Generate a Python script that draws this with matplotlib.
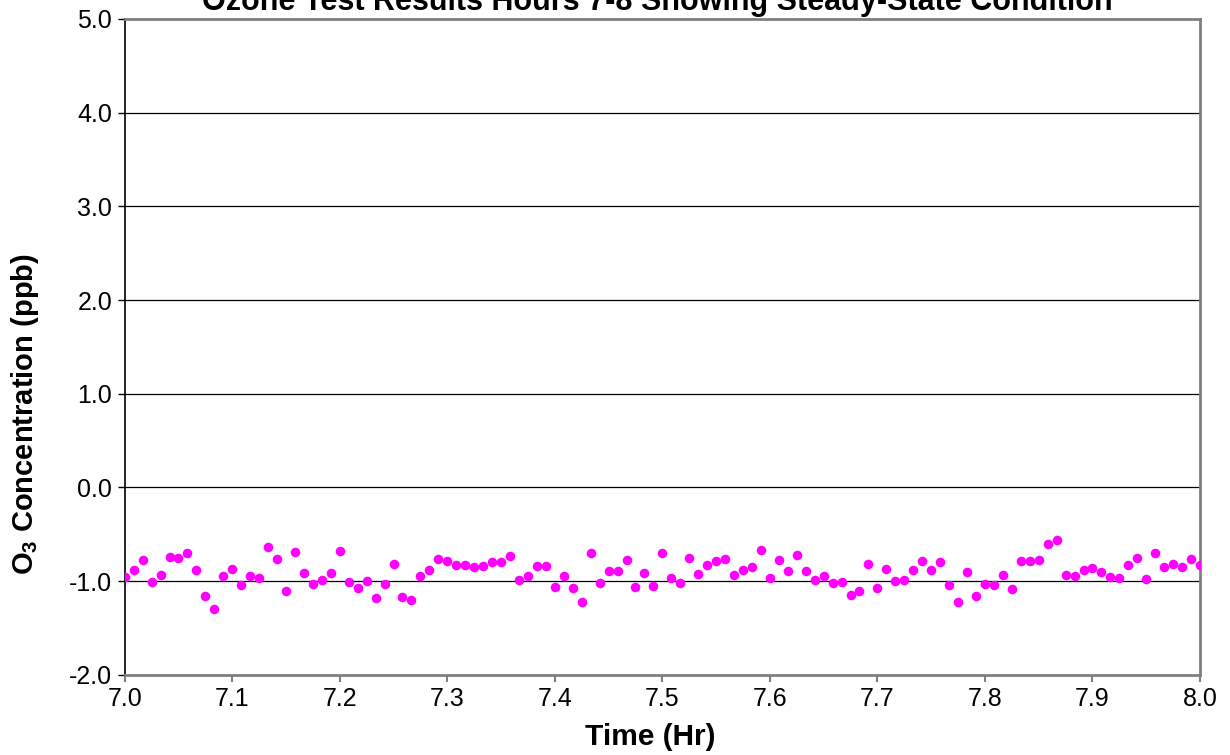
import numpy as np
import matplotlib
matplotlib.use("Agg")
import matplotlib.pyplot as plt

plt.rcParams['font.family'] = ['Liberation Sans', 'DejaVu Sans']
plt.rcParams['mathtext.fontset'] = 'custom'
plt.rcParams['mathtext.rm'] = 'Liberation Sans'
plt.rcParams['mathtext.bf'] = 'Liberation Sans:bold'

# ozone readings, one every 30 s from hour 7.0 to 8.0
o3 = [-0.957, -0.879, -0.772, -1.007, -0.936, -0.747, -0.754, -0.701, -0.883, -1.157,
      -1.299, -0.947, -0.875, -1.046, -0.950, -0.972, -0.641, -0.762, -1.103, -0.687,
      -0.918, -1.032, -0.989, -0.915, -0.676, -1.011, -1.078, -1.004, -1.181, -1.032,
      -0.819, -1.171, -1.203, -0.943, -0.879, -0.769, -0.790, -0.829, -0.829, -0.854,
      -0.843, -0.797, -0.797, -0.737, -0.993, -0.943, -0.836, -0.836, -1.060, -0.943,
      -1.078, -1.228, -0.698, -1.021, -0.890, -0.897, -0.772, -1.064, -0.918, -1.050,
      -0.705, -0.972, -1.018, -0.758, -0.922, -0.826, -0.783, -0.769, -0.936, -0.883,
      -0.854, -0.673, -0.964, -0.772, -0.893, -0.726, -0.890, -0.993, -0.943, -1.021,
      -1.014, -1.149, -1.107, -0.819, -1.075, -0.868, -1.004, -0.989, -0.883, -0.790,
      -0.883, -0.801, -1.043, -1.224, -0.904, -1.160, -1.028, -1.043, -0.936, -1.089,
      -0.783, -0.783, -0.772, -0.609, -0.566, -0.936, -0.943, -0.886, -0.861, -0.907,
      -0.957, -0.968, -0.833, -0.751, -0.979, -0.698, -0.851, -0.822, -0.851, -0.762,
      -0.826]
start_hr = 7.0
step_sec = 30
hours = start_hr + np.arange(len(o3)) * step_sec / 3600.0

xticks = [7.0, 7.1, 7.2, 7.3, 7.4, 7.5, 7.6, 7.7, 7.8, 7.9, 8.0]
yticks = [-2.0, -1.0, 0.0, 1.0, 2.0, 3.0, 4.0, 5.0]

fig = plt.figure(figsize=(12.3, 7.55), dpi=100)
ax = fig.add_axes([124.7/1230, 1-674.7/755, (1200-124.7)/1230, (674.7-19)/755])

for yv in yticks[1:-1]:
    ax.axhline(yv, color='black', lw=0.9, zorder=1)

ax.plot(hours, o3, linestyle='none', marker='o', markersize=6.9,
        color='#FF00FF', markeredgewidth=0, zorder=3)

ax.set_xlim(7.0, 8.0)
ax.set_ylim(-2.0, 5.0)
ax.set_xticks(xticks)
ax.set_yticks(yticks)
ax.set_xticklabels([f"{v:.1f}" for v in xticks])
ax.set_yticklabels([f"{v:.1f}" for v in yticks])
ax.tick_params(axis='both', labelsize=18, direction='out', length=5)
ax.tick_params(axis='x', color='#808080', width=1.5, pad=4)
ax.tick_params(axis='y', color='black', width=1.0, pad=4)

for s in ['top', 'right', 'bottom']:
    ax.spines[s].set_color('#808080')
    ax.spines[s].set_linewidth(2)
ax.spines['left'].set_color('black')
ax.spines['left'].set_linewidth(1.2)

fig.text(657/1230, 1-10/755, "Ozone Test Results Hours 7-8 Showing Steady-State Condition",
         ha='center', va='baseline', fontsize=22, fontweight='bold')
fig.text(650/1230, 1-745/755, "Time (Hr)", ha='center', va='baseline',
         fontsize=21.5, fontweight='bold')
fig.text(25/1230, 1-414/755, r"O$_\mathbf{3}$ Concentration (ppb)", rotation=90,
         ha='center', va='center', fontsize=21, fontweight='bold')

fig.savefig("out.png", dpi=100)
